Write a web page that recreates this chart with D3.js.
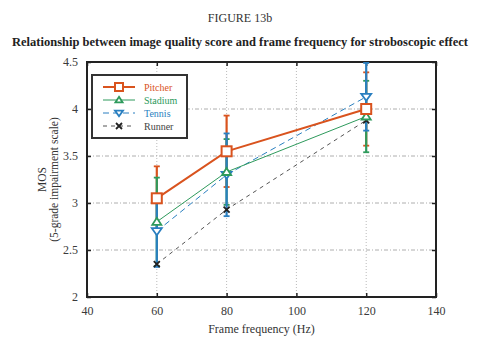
<!DOCTYPE html>
<html>
<head>
<meta charset="utf-8">
<script src="https://cdn.jsdelivr.net/npm/d3@7"></script>
<style>
  body { margin: 0; background: #fff; }
  text { font-family: "Liberation Serif", "Times New Roman", serif; }
</style>
</head>
<body>
<div id="chart"></div>
<script>
// frame frequencies (Hz) and mean opinion scores per sequence
var frequencies = [60, 80, 120];
var pitcher = [3.05, 3.55, 4.00];
var stadium = [2.80, 3.33, 3.92];
var tennis  = [2.70, 3.30, 4.13];
var runner  = [2.35, 2.93, 3.88];
// half-width of the confidence intervals
var pitcherErr = [0.34, 0.38, 0.39];
var stadiumErr = [0.47, 0.35, 0.38];
var tennisErr  = [0.38, 0.44, 0.36];
var xTicks = [40, 60, 80, 100, 120, 140];
var yTicks = [2, 2.5, 3, 3.5, 4, 4.5];

var series = [
  {name: "Pitcher", values: pitcher, err: pitcherErr, color: "#d9531e", width: 2, dash: null, marker: "square"},
  {name: "Stadium", values: stadium, err: stadiumErr, color: "#2e9a5c", width: 1, dash: null, marker: "triUp"},
  {name: "Tennis",  values: tennis,  err: tennisErr,  color: "#2a7fc0", width: 1, dash: "6,4", marker: "triDown"},
  {name: "Runner",  values: runner,  err: null,       color: "#555", width: 1, dash: "4,4", marker: "cross"}
];

var margin = {top: 62, right: 43, bottom: 51, left: 87},
    outerWidth = 479,
    outerHeight = 348,
    width = outerWidth - margin.left - margin.right,
    height = outerHeight - margin.top - margin.bottom;

var x = d3.scaleLinear().domain([40, 140]).range([0, width]);
var y = d3.scaleLinear().domain([2, 4.5]).range([height, 0]);

var root = d3.select("#chart").append("svg")
    .attr("width", outerWidth)
    .attr("height", outerHeight);

root.append("text")
    .attr("x", 240).attr("y", 22)
    .attr("text-anchor", "middle")
    .style("font-size", "12px").style("fill", "#333")
    .text("FIGURE 13b");

root.append("text")
    .attr("x", 240).attr("y", 46)
    .attr("text-anchor", "middle")
    .style("font-size", "12.5px").style("font-weight", "bold").style("fill", "#222")
    .text("Relationship between image quality score and frame frequency for stroboscopic effect");

var svg = root.append("g")
    .attr("transform", "translate(" + margin.left + "," + margin.top + ")");

// dash-dot grid
svg.selectAll(".gx").data(xTicks.slice(1, -1)).enter().append("line")
    .attr("x1", function(d) { return x(d); }).attr("x2", function(d) { return x(d); })
    .attr("y1", 0).attr("y2", height)
    .attr("stroke", "#aaa").attr("stroke-width", 0.8).attr("stroke-dasharray", "1,2");
svg.selectAll(".gy").data(yTicks.slice(1, -1)).enter().append("line")
    .attr("y1", function(d) { return y(d); }).attr("y2", function(d) { return y(d); })
    .attr("x1", 0).attr("x2", width)
    .attr("stroke", "#999").attr("stroke-width", 0.8).attr("stroke-dasharray", "4,2,1,2");

// axes with ticks pointing inward
var fmt = function(d) { return String(d); };
var xAxis = svg.append("g").attr("transform", "translate(0," + height + ")")
    .call(d3.axisBottom(x).tickValues(xTicks).tickFormat(fmt).tickSizeInner(-4).tickSizeOuter(0).tickPadding(9));
var xTop = svg.append("g")
    .call(d3.axisTop(x).tickValues(xTicks).tickSizeInner(-4).tickSizeOuter(0).tickFormat(""));
var yAxis = svg.append("g")
    .call(d3.axisLeft(y).tickValues(yTicks).tickFormat(fmt).tickSizeInner(-4).tickSizeOuter(0).tickPadding(9));
var yRight = svg.append("g").attr("transform", "translate(" + width + ",0)")
    .call(d3.axisRight(y).tickValues(yTicks).tickSizeInner(-4).tickSizeOuter(0).tickFormat(""));

[xAxis, xTop, yAxis, yRight].forEach(function(a) {
  a.attr("font-family", "Liberation Serif, serif").attr("font-size", 12);
  a.select(".domain").remove();
  a.selectAll(".tick line").attr("stroke", "#222").attr("stroke-width", 1.5);
  a.selectAll("text").attr("fill", "#3a3a3a");
});

svg.append("rect")
    .attr("width", width).attr("height", height)
    .attr("fill", "none").attr("stroke", "#222").attr("stroke-width", 2);

// series lines
var line = d3.line()
    .x(function(d, i) { return x(frequencies[i]); })
    .y(function(d) { return y(d); });

series.slice().reverse().forEach(function(s) {
  svg.append("path")
      .datum(s.values)
      .attr("d", line)
      .attr("fill", "none")
      .attr("stroke", s.color)
      .attr("stroke-width", s.width)
      .attr("stroke-dasharray", s.dash);
});

// error bars
series.forEach(function(s) {
  if (!s.err) return;
  var g = svg.append("g");
  s.values.forEach(function(v, i) {
    var cx = x(frequencies[i]);
    var lo = y(v - s.err[i]), hi = y(v + s.err[i]);
    g.append("line").attr("x1", cx).attr("x2", cx).attr("y1", lo).attr("y2", hi)
        .attr("stroke", s.color).attr("stroke-width", 2.2);
    [lo, hi].forEach(function(yy) {
      g.append("line").attr("x1", cx - 3).attr("x2", cx + 3).attr("y1", yy).attr("y2", yy)
          .attr("stroke", s.color).attr("stroke-width", 1.8);
    });
  });
});

function drawMarker(g, type, cx, cy, color, k) {
  k = k || 1;
  if (type === "square") {
    g.append("rect").attr("x", cx - 5 * k).attr("y", cy - 5 * k).attr("width", 10 * k).attr("height", 10 * k)
        .attr("fill", "#fff").attr("stroke", color).attr("stroke-width", 2);
  } else if (type === "triUp") {
    g.append("path").attr("d", "M" + cx + "," + (cy - 4 * k) + "L" + (cx + 4.5 * k) + "," + (cy + 3 * k) + "L" + (cx - 4.5 * k) + "," + (cy + 3 * k) + "Z")
        .attr("fill", "#fff").attr("stroke", color).attr("stroke-width", 1.8);
  } else if (type === "triDown") {
    g.append("path").attr("d", "M" + cx + "," + (cy + 4 * k) + "L" + (cx + 5 * k) + "," + (cy - 3 * k) + "L" + (cx - 5 * k) + "," + (cy - 3 * k) + "Z")
        .attr("fill", "#fff").attr("stroke", color).attr("stroke-width", 1.8);
  } else {
    g.append("path").attr("d", "M" + (cx - 3) + "," + (cy - 3) + "L" + (cx + 3) + "," + (cy + 3) +
        "M" + (cx + 3) + "," + (cy - 3) + "L" + (cx - 3) + "," + (cy + 3))
        .attr("stroke", "#222").attr("stroke-width", 1.8);
  }
}

series.slice().reverse().forEach(function(s) {
  var g = svg.append("g");
  s.values.forEach(function(v, i) {
    drawMarker(g, s.marker, x(frequencies[i]), y(v), s.color);
  });
});

// legend
var legend = svg.append("g").attr("transform", "translate(5,13)");
legend.append("rect").attr("width", 95).attr("height", 63)
    .attr("fill", "#fff").attr("stroke", "#333").attr("stroke-width", 2);
series.forEach(function(s, i) {
  var ly = 12 + i * 13;
  legend.append("line").attr("x1", 11).attr("x2", 43).attr("y1", ly).attr("y2", ly)
      .attr("stroke", s.color).attr("stroke-width", s.width).attr("stroke-dasharray", s.dash);
  drawMarker(legend, s.marker, 27, ly, s.color, 0.8);
  legend.append("text").attr("x", 52).attr("y", ly + 3.5)
      .style("font-size", "10px").style("fill", s.name === "Runner" ? "#444" : s.color)
      .text(s.name);
});

// axis titles
root.append("text")
    .attr("x", margin.left + width / 2).attr("y", 333)
    .attr("text-anchor", "middle")
    .style("font-size", "12px").style("fill", "#333")
    .text("Frame frequency (Hz)");

var yl = root.append("text")
    .attr("transform", "translate(46," + (margin.top + height / 2) + ") rotate(-90)")
    .attr("text-anchor", "middle")
    .style("font-size", "11.5px").style("fill", "#333");
yl.append("tspan").attr("x", 0).attr("dy", 0).text("MOS");
yl.append("tspan").attr("x", 0).attr("dy", 12).text("(5-grade impairment scale)");
</script>
</body>
</html>
